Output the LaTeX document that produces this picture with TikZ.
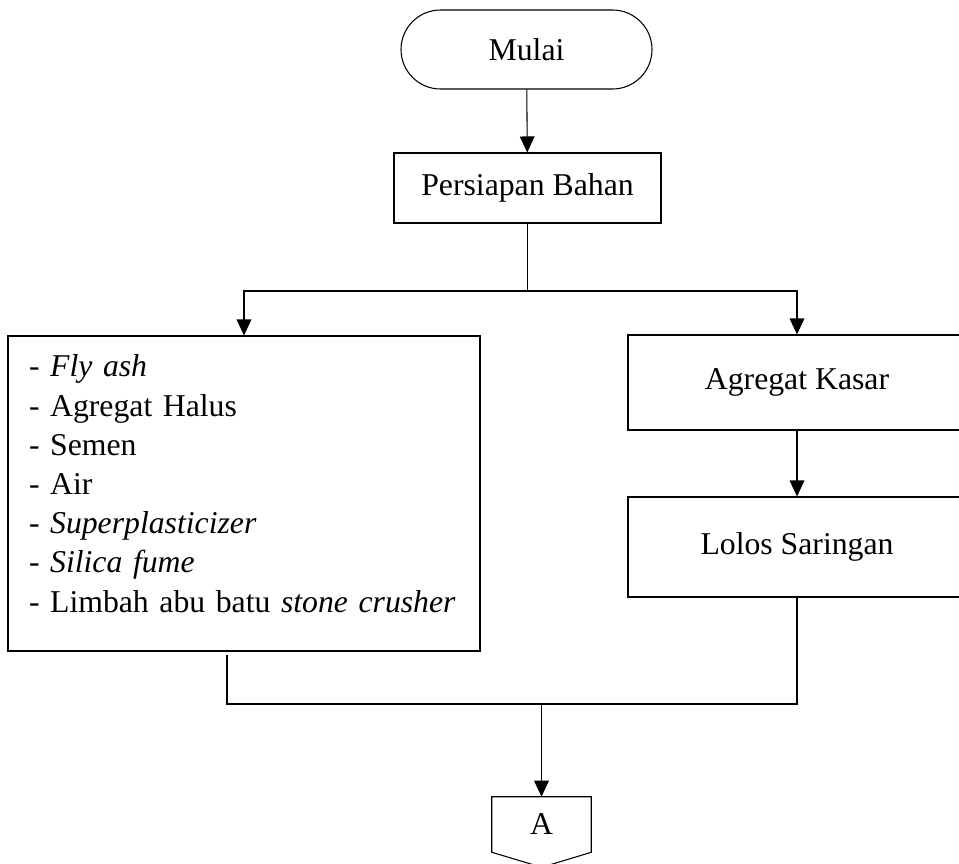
\documentclass[tikz,border=0pt]{standalone}
\usepackage{fontspec}
\setmainfont{Liberation Serif}
\usetikzlibrary{arrows.meta,positioning,shapes.misc}
\newcommand{\pxu}{0.75pt}
\tikzset{box/.style={draw,line width=0.8pt,inner sep=0pt,align=center},
  terminal/.style={box,rounded rectangle},
  arr/.style={-{Triangle[length=12pt,width=11pt]},line width=0.8pt}}
\begin{document}
\begin{tikzpicture}[x=\pxu,y=-\pxu,font=\fontsize{23.8}{29.4}\selectfont]
\useasboundingbox (0,0) rectangle (959,863);
\node[terminal,minimum width=251*\pxu,minimum height=79*\pxu] (mulai) at (526.5,49.5){Mulai};
\node[box,minimum width=267*\pxu,minimum height=70*\pxu] (persiapan) at (527.5,188){Persiapan Bahan};
\node[box,minimum width=472*\pxu,minimum height=315*\pxu,align=left,text width=430*\pxu,text height=16pt,text depth=191pt] (bahan) at (244,493.5){- \textit{Fly ash}\\- Agregat Halus\\- Semen\\- Air\\- \textit{Superplasticizer}\\- \textit{Silica fume}\\- Limbah abu batu \textit{stone crusher}};
\node[box,minimum width=338*\pxu,minimum height=95*\pxu] (kasar) at (797,382.5){Agregat Kasar};
\node[box,minimum width=338*\pxu,minimum height=100*\pxu] (lolos) at (797,547){Lolos Saringan};
% off-page connector
\node[minimum width=99*\pxu,minimum height=55*\pxu] (A) at (541.5,824.5){A};
\draw[line width=0.8pt] (A.north west)--(A.north east)--(A.south east)--++(-49.5,15)--(A.south west)--cycle;
\coordinate (cab) at (persiapan.south |- 0,291);
\coordinate (gab) at (A.north |- 0,704);
\draw[arr] (mulai)--(persiapan); \draw[line width=0.8pt] (persiapan)--(cab);
\draw[arr] (cab)-|(bahan); \draw[arr] (cab)-|(kasar); \draw[arr] (kasar)--(lolos);
\draw[line width=0.8pt] (bahan.south -| 227,0)++(0,3)|-(gab); \draw[line width=0.8pt] (lolos.south)|-(gab); \draw[arr] (gab)--(A.north);
\end{tikzpicture}
\end{document}
